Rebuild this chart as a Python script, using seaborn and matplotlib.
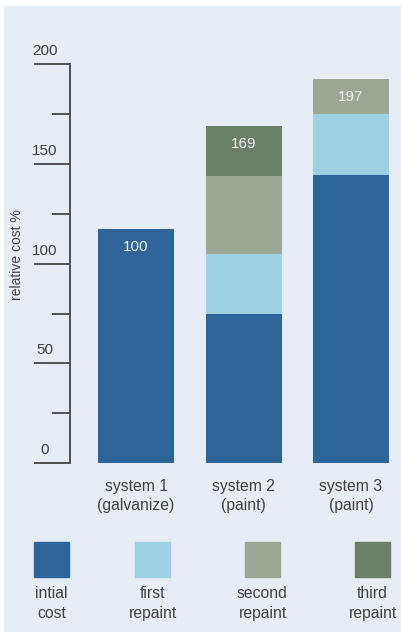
import numpy as np
import pandas as pd
import matplotlib.pyplot as plt
import seaborn as sns
from matplotlib.patches import Rectangle

# data
systems = ["system 1\n(galvanize)", "system 2\n(paint)", "system 3\n(paint)"]
initial_cost = [117.5, 75, 144.5]
first_repaint = [0, 30, 30.5]
second_repaint = [0, 39, 17.5]
third_repaint = [0, 25, 0]
total_labels = ["100", "169", "197"]

layers = ["intial\ncost", "first\nrepaint", "second\nrepaint", "third\nrepaint"]
colors = ["#2f6498", "#9dd1e3", "#9ca896", "#6a7f67"]
bg = "#e6edf7"
ink = "#404040"

sns.set_theme(style="white")
plt.rcParams['font.family'] = ['Liberation Sans', 'DejaVu Sans']

W, H = 401, 633
fig = plt.figure(figsize=(W / 100, H / 100), dpi=100, facecolor="white")
fig.add_artist(Rectangle((4 / W, 2 / H), (W - 4) / W, (H - 8) / H,
                         transform=fig.transFigure, color=bg, zorder=0))

ax_left, ax_bottom, ax_top = 70, 463.3, 64
ax = fig.add_axes([ax_left / W, (H - ax_bottom) / H,
                   (W - ax_left) / W, (ax_bottom - ax_top) / H])
ax.set_facecolor("none")

# stacked bars: draw cumulative totals, tallest layer first
stack = np.array([initial_cost, first_repaint, second_repaint, third_repaint])
cum = stack.cumsum(axis=0)
for i in range(len(layers) - 1, -1, -1):
    df = pd.DataFrame({"system": systems, "value": cum[i]})
    sns.barplot(data=df, x="system", y="value", color=colors[i], width=0.707,
                saturation=1, ax=ax, linewidth=0)

totals = cum[-1]
for i, lab in enumerate(total_labels):
    ax.text(i, totals[i] - 9, lab, ha="center", va="center",
            color="#f4f4f4", fontsize=11)

ax.set_ylim(0, 200)
ax.set_xlim(-0.614, -0.614 + (W - ax_left) / 107.5)
ax.set_xlabel("")
ax.set_ylabel("")

for s in ["top", "right", "bottom"]:
    ax.spines[s].set_visible(False)
ax.spines["left"].set_color("#444444")
ax.spines["left"].set_linewidth(1.3)
ax.spines["left"].set_bounds(0, 200)

ax.set_yticks([0, 50, 100, 150, 200])
ax.set_yticks([25, 75, 125, 175], minor=True)
ax.tick_params(axis="y", which="major", length=26, width=1.3, color="#444444",
               labelleft=False, left=True)
ax.tick_params(axis="y", which="minor", length=13, width=1.3, color="#444444",
               left=True)
for v in [0, 50, 100, 150, 200]:
    ax.text(-25 / (W - ax_left), v + 6.5, str(v), transform=ax.get_yaxis_transform(),
            ha="center", va="center", fontsize=11, color=ink)

ax.tick_params(axis="x", length=0, pad=11, labelsize=11.3, labelcolor=ink)
for t in ax.get_xticklabels():
    t.set_linespacing(1.4)

fig.text(17 / W, 1 - 255 / H, "relative cost %", rotation=90, ha="center",
         va="center", fontsize=10, color=ink)

# legend: colour squares with labels below
sq_x = [34, 135, 245, 355]
for x0, c, lab in zip(sq_x, colors, layers):
    fig.add_artist(Rectangle((x0 / W, 1 - 577 / H), 35 / W, 35 / H,
                             transform=fig.transFigure, color=c))
    fig.text((x0 + 17.5) / W, 1 - 603.5 / H, lab, ha="center", va="center",
             fontsize=11.3, color=ink, linespacing=1.4)

fig.savefig("out.png", dpi=100, facecolor="white")
